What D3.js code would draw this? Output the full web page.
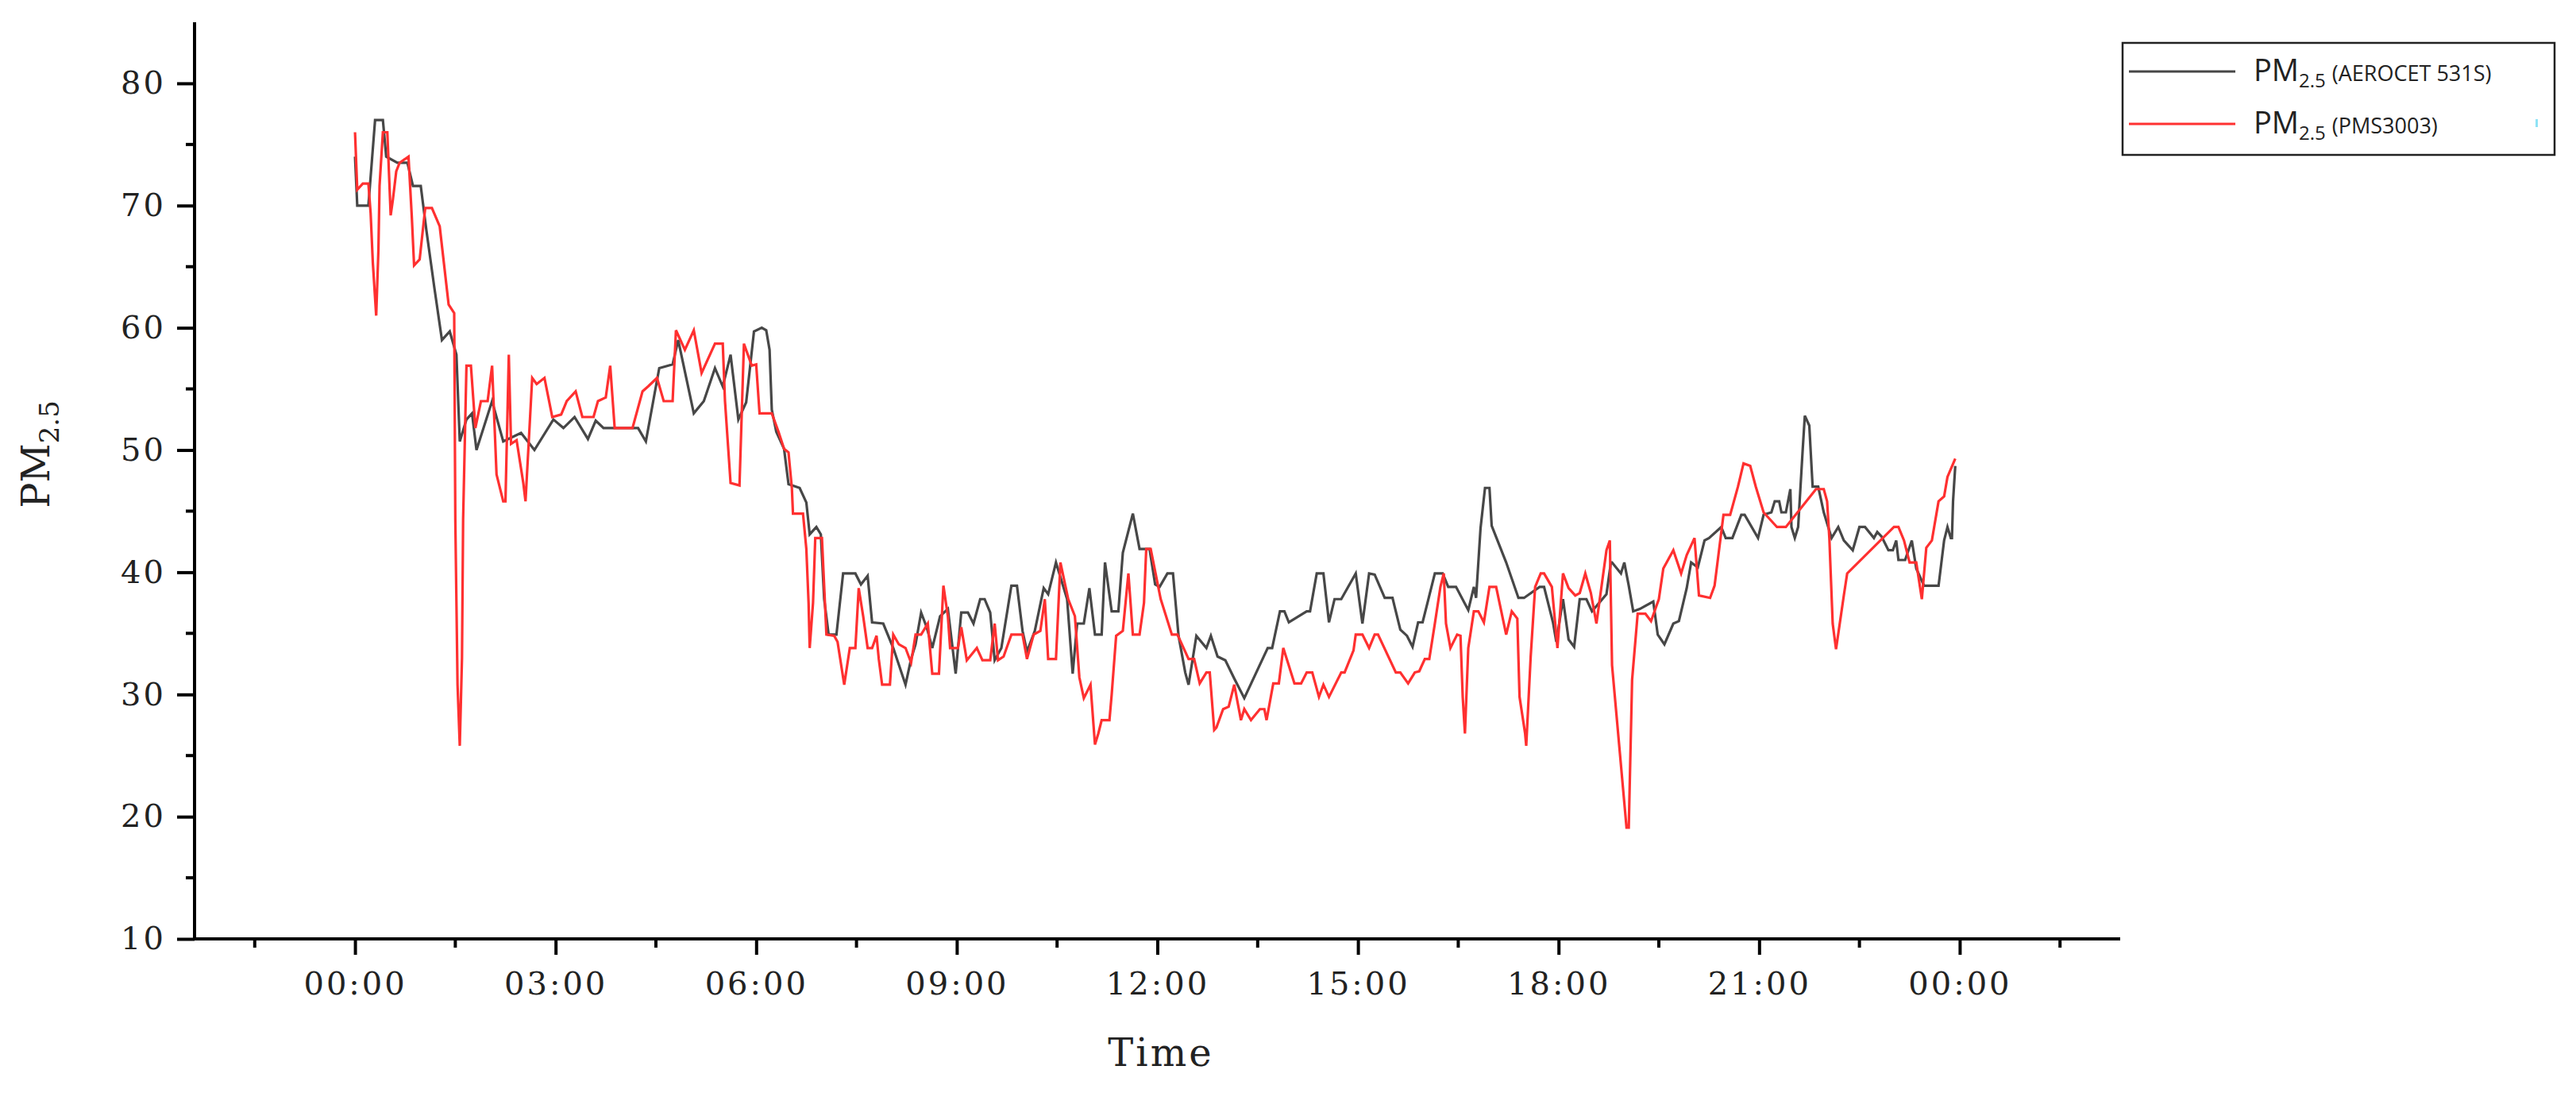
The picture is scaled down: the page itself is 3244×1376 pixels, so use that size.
<!DOCTYPE html>
<html>
<head>
<meta charset="utf-8">
<script src="https://cdn.jsdelivr.net/npm/d3@7"></script>
<style>
  body { margin: 0; background: #fff; }
  svg { display: block; }
</style>
</head>
<body>
<div id="chart"></div>
<script>
// time in minutes after 00:00
var aeroMin = [0,2,12,18,25,28,38,47,52,59,64,71,78,85,91,94,100,105,109,123,133,149,161,178,187,197,209,216,223,254,261,273,285,290,304,313,323,330,337,344,351,358,365,
  369,372,374,378,385,389,399,405,408,414,418,421,425,432,438,449,454,460,464,474,483,494,499,503,508,513,518,525,532,539,544,550,555,561,565,570,574,580,589,594,599,603,610,618,622,629,634,639,644,648,654,659,664,670,673,679,685,689,698,704,713,
  718,722,729,734,739,745,748,755,764,768,774,781,789,798,819,823,830,834,838,854,857,863,869,874,879,885,898,904,910,915,924,931,938,944,949,954,958,969,976,981,988,999,1004,1006,1010,1014,1018,1020,1033,1044,1049,1063,1067,1075,
  1078,1084,1089,1094,1099,1105,1110,1123,1127,1128,1136,1139,1143,1147,1153,1165,1169,1175,1183,1188,1195,1199,1205,1211,1215,1226,1230,1236,1244,1247,1259,1264,1271,1274,1278,1280,1284,1288,1289,1292,1295,1299,1301,1305,1308,1313,1318,1325,1331,1336,1344,1350,1355,1363,1366,1370,1376,1380,1383,1385,1391,1397,1401,1408,1421,1426,1429,1432,1433,1434,1436];
var aeroVal = [74,70,70,77,77,74,73.5,73.5,71.6,71.6,68,63.4,59,59.7,57.8,50.7,52.5,53,50,54,50.7,51.4,50,52.5,51.8,52.7,50.9,52.4,51.8,51.8,50.7,56.7,57,59,53,54,56.7,55.2,57.8,52.5,53.9,59.7,60,
  59.8,58.2,53.3,51.5,50.1,47.2,46.9,45.7,43.1,43.7,43.1,37.8,34.9,34.9,39.9,39.9,39,39.7,35.9,35.8,33.8,30.8,32.9,34.1,36.7,35.5,33.8,36.4,37,31.7,36.7,36.7,35.8,37.8,37.8,36.7,32.8,33.8,38.9,38.9,35.2,33.5,35.2,38.7,38.2,40.8,39.3,37.8,31.7,35.8,35.8,38.7,34.9,34.9,40.8,36.8,36.8,41.6,44.8,41.9,41.9,39,
  38.8,39.9,39.9,34.8,31.8,30.8,34.8,33.8,34.8,33.1,32.8,31.3,29.7,33.8,33.8,36.8,36.8,35.9,36.8,36.8,39.9,39.9,35.9,37.8,37.8,39.9,35.8,39.9,39.8,37.9,37.9,35.3,34.8,33.9,35.9,35.9,39.9,39.9,38.8,38.8,36.9,38.8,37.9,43.6,46.9,46.9,43.8,40.8,37.9,37.9,38.8,38.8,35.9,34.3,
  37.8,34.5,33.9,37.8,37.8,36.8,38.2,40.8,40.8,39.9,40.8,38.9,36.8,37,37.6,34.9,34.1,35.8,36,38.7,40.8,40.4,42.6,42.8,43.7,42.8,42.8,44.7,44.7,42.8,44.7,44.9,45.8,45.8,44.9,44.9,46.8,43.7,42.8,43.7,49.9,52.8,52,47,47,44.9,42.8,43.7,42.6,41.8,43.7,43.7,42.8,43.3,42.9,41.8,41.8,42.6,41,41,42.6,40.3,38.9,38.9,42.6,43.7,42.8,42.8,45.8,48.7,51.6,59.9,70.9,79.9];

var pmsMin = [0,2,7,12,14,16,19,21,22,25,29,32,34,37,40,48,51,53,58,63,69,76,84,89,90,92,94,96,97,100,104,108,113,119,123,127,133,135,138,140,145,151,153,159,163,170,177,185,190,198,204,214,218,225,229,233,249,258,263,271,277,285,288,296,304,311,323,330,332,337,345,349,356,
  360,363,374,380,385,389,392,393,402,405,407,408,411,413,419,423,430,433,439,444,449,452,456,460,464,468,470,473,480,483,488,494,499,503,508,514,518,524,528,532,534,541,544,549,558,563,570,574,577,582,589,599,603,609,615,619,622,629,633,640,646,650,654,660,664,667,670,677,679,683,689,694,698,704,708,
  710,714,723,733,738,748,753,758,764,767,771,773,779,784,789,795,798,804,812,816,818,824,829,833,843,849,854,859,865,869,874,885,888,896,898,904,910,915,918,934,938,945,951,955,960,964,969,974,977,979,983,989,992,994,996,999,1004,1008,1013,1018,1024,1033,1038,1043,1045,1050,1051,1055,1059,1064,1067,1074,
  1079,1084,1089,1095,1099,1104,1109,1114,1123,1126,1128,1141,1143,1146,1151,1158,1163,1170,1174,1183,1190,1195,1202,1206,1216,1220,1228,1234,1241,1246,1252,1257,1264,1276,1284,1311,1318,1321,1323,1326,1329,1336,1339,1381,1385,1390,1395,1401,1406,1410,1415,1421,1426,1429,1436];
var pmsVal = [76,71.3,71.8,71.8,69.4,65.3,61,66.4,71.6,76,76,69.2,70.5,72.8,73.5,74,69,65.1,65.6,69.8,69.8,68.3,61.9,61.2,44.3,30.8,25.8,33,44.3,56.9,56.9,51.8,54,54,56.9,48,45.8,45.8,57.8,50.5,50.8,47.3,45.8,55.9,55.4,55.9,52.7,52.9,54,54.8,52.7,52.7,54,54.3,56.9,51.8,51.8,54.8,55.2,55.9,54,54,59.8,58.2,59.8,56.3,58.7,58.7,54,47.3,47.1,58.7,56.9,
  57,53,53,51.5,50.1,49.8,46.9,44.8,44.8,41.9,37.5,33.8,37.5,42.8,42.8,34.9,34.8,34.3,30.8,33.8,33.8,38.7,36.4,33.8,33.8,34.8,32.9,30.8,30.8,34.9,34.1,33.8,32.6,34.9,34.9,35.8,31.7,31.7,38.9,36.4,33.8,33.8,35.5,32.8,33.8,32.8,32.8,35.8,32.8,33.1,34.9,34.9,32.9,34.9,35.2,37.8,32.9,32.9,40.8,37.8,36.4,31.4,29.7,30.8,25.9,26.8,27.9,27.9,30,34.8,35.2,39.9,34.9,34.9,37.5,41.9,
  41.9,37.8,34.9,34.9,32.9,32.9,30.9,31.8,31.8,27.1,27.3,28.8,29,30.8,27.9,28.8,27.9,28.8,28.8,27.9,30.9,30.9,33.8,30.9,30.9,31.8,31.8,29.8,30.8,29.8,31.8,31.8,33.6,34.9,34.9,33.8,34.9,34.9,31.8,31.8,30.9,31.8,31.9,32.9,32.9,35.8,38.8,39.9,35.8,33.8,34.9,34.8,29.8,26.8,33.8,36.8,36.8,35.9,38.8,38.8,34.9,36.8,36.2,29.8,26.8,25.8,33.1,38.8,39.9,39.9,38.8,33.8,
  39.9,38.7,38.1,38.3,39.9,38.3,35.8,41.8,42.6,32.4,19.1,19.1,31.2,36.6,36.6,36,37.8,40.3,41.8,39.9,41.4,42.8,38.1,37.9,38.9,44.7,44.7,47,48.9,48.7,47,44.9,43.7,43.7,46.8,46.8,45.8,42.8,35.8,33.7,38.1,39.9,43.7,43.7,42.6,40.8,40.8,37.8,42,42.6,45.8,46.2,47.8,49.3,51.8];

var majorTicks = [0,180,360,540,720,900,1080,1260,1440];
var majorLabels = ["00:00","03:00","06:00","09:00","12:00","15:00","18:00","21:00","00:00"];
var minorTicks = [-90,90,270,450,630,810,990,1170,1350,1530];
var yTicks = [10,20,30,40,50,60,70,80];
var seriesNames = ["(AEROCET 531S)","(PMS3003)"];
var seriesColors = ["#474747","#ff3030"];

var width = 3244, height = 1376;
var svg = d3.select("#chart").append("svg")
    .attr("width", width)
    .attr("height", height);

var x = d3.scaleLinear().domain([-144, 1584]).range([245, 2670]);
var y = d3.scaleLinear().domain([10, 85]).range([1182, 28]);

var line = d3.line()
    .x(d => x(d[0]))
    .y(d => y(d[1]));

var series = [
    d3.zip(aeroMin, aeroVal),
    d3.zip(pmsMin, pmsVal)
];

// draw red first? in the picture red sits on top of black
series.forEach(function(s, i) {
    svg.append("path")
        .datum(s)
        .attr("fill", "none")
        .attr("stroke", seriesColors[i])
        .attr("stroke-width", 3.2)
        .attr("stroke-linejoin", "miter")
        .attr("d", line);
});

// x axis
var xAxis = svg.append("g").attr("transform", "translate(0," + y(10) + ")");
xAxis.call(d3.axisBottom(x).tickValues(majorTicks)
    .tickFormat((d, i) => majorLabels[i]).tickSize(20).tickPadding(22));
xAxis.selectAll(".tick").filter(d => false);
xAxis.append("g").selectAll("line")
    .data(minorTicks)
    .join("line")
    .attr("x1", d => x(d)).attr("x2", d => x(d))
    .attr("y1", 0).attr("y2", 11)
    .attr("stroke", "#000").attr("stroke-width", 4);

// y axis
var yAxis = svg.append("g").attr("transform", "translate(" + x(-144) + ",0)");
yAxis.call(d3.axisLeft(y).tickValues(yTicks).tickSize(22).tickPadding(14));
yAxis.append("g").selectAll("line")
    .data(d3.range(15, 85, 10))
    .join("line")
    .attr("x1", 0).attr("x2", -11)
    .attr("y1", d => y(d)).attr("y2", d => y(d))
    .attr("stroke", "#000").attr("stroke-width", 4);

[xAxis, yAxis].forEach(function(a) {
    a.select(".domain").attr("stroke", "#000").attr("stroke-width", 4);
    a.selectAll(".tick line").attr("stroke", "#000").attr("stroke-width", 4);
    a.selectAll(".tick text")
        .attr("fill", "#222")
        .style("font-family", "'DejaVu Serif', serif")
        .style("font-size", "40px")
        .style("letter-spacing", "3px");
});
// remove the domain's end caps so it is a plain line
xAxis.select(".domain").attr("d", "M" + x(-144) + ",0H" + x(1584));
yAxis.select(".domain").attr("d", "M0," + y(10) + "V" + y(85));

// axis titles
svg.append("text")
    .attr("x", 1462).attr("y", 1342)
    .attr("text-anchor", "middle")
    .style("font-family", "'DejaVu Serif', serif")
    .style("font-size", "48px")
    .style("letter-spacing", "3px")
    .attr("fill", "#222")
    .text("Time");

var yt = svg.append("text")
    .attr("transform", "translate(62,572) rotate(-90)")
    .attr("text-anchor", "middle")
    .style("font-family", "'DejaVu Serif', serif")
    .style("font-size", "48px")
    .attr("fill", "#222");
yt.append("tspan").text("PM");
yt.append("tspan").attr("dy", 12).style("font-size", "34px").text("2.5");

// legend
var legend = svg.append("g");
legend.append("rect")
    .attr("x", 2673).attr("y", 54)
    .attr("width", 544).attr("height", 141)
    .attr("fill", "#fff").attr("stroke", "#222").attr("stroke-width", 2.5);

seriesNames.forEach(function(name, i) {
    var ly = 90 + i * 66;
    legend.append("line")
        .attr("x1", 2681).attr("x2", 2815)
        .attr("y1", ly).attr("y2", ly)
        .attr("stroke", seriesColors[i]).attr("stroke-width", 3);
    var t = legend.append("text")
        .attr("x", 2838).attr("y", ly + 12)
        .style("font-family", "'Open Sans', sans-serif")
        .attr("fill", "#222");
    t.append("tspan").style("font-size", "38px").text("PM");
    t.append("tspan").attr("dy", 8).style("font-size", "24px").text("2.5");
    t.append("tspan").attr("dy", -8).attr("dx", 8).style("font-size", "27px").text(name);
});
legend.append("rect")
    .attr("x", 3193).attr("y", 150).attr("width", 3).attr("height", 10)
    .attr("fill", "#8fe3f5");
</script>
</body>
</html>
